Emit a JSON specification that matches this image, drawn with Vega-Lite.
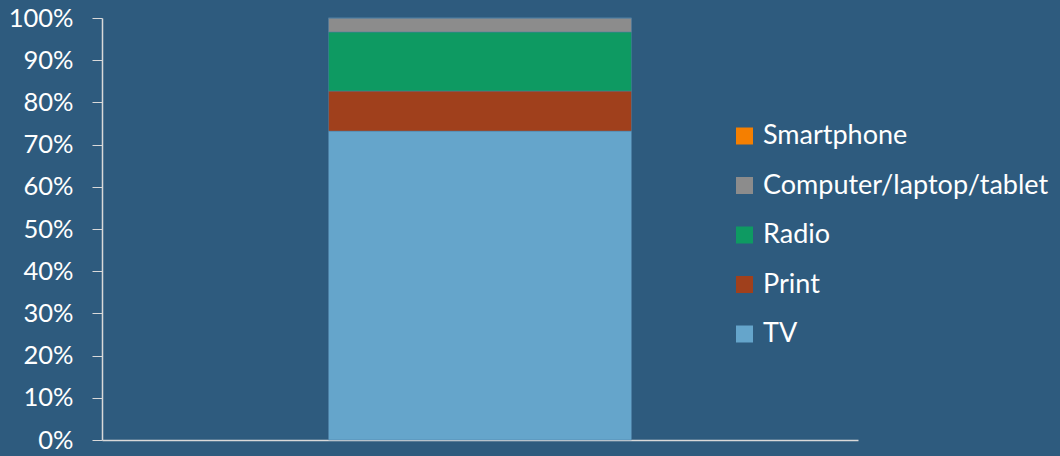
{
  "$schema": "https://vega.github.io/schema/vega-lite/v6.json",
  "autosize": {"type": "none"},
  "width": 756,
  "height": 422,
  "padding": {"left": 102, "top": 18, "right": 202, "bottom": 16},
  "background": "#2E5B7E",
  "config": {
    "view": {"stroke": null},
    "font": "Lato",
    "axis": {"labelFont": "Lato", "labelColor": "#FFFFFF", "domainColor": "#D9D9D9", "tickColor": "#D9D9D9", "grid": false},
    "legend": {"labelFont": "Lato", "labelColor": "#FFFFFF"}
  },
  "data": {
    "values": [
      {"category": "All", "medium": "TV", "share": 0.732, "rank": 1},
      {"category": "All", "medium": "Print", "share": 0.095, "rank": 2},
      {"category": "All", "medium": "Radio", "share": 0.14, "rank": 3},
      {"category": "All", "medium": "Computer/laptop/tablet", "share": 0.033, "rank": 4},
      {"category": "All", "medium": "Smartphone", "share": 0.0, "rank": 5}
    ]
  },
  "mark": {"type": "bar", "stroke": "#4F7FA3", "strokeWidth": 0.5},
  "encoding": {
    "x": {
      "field": "category",
      "type": "nominal",
      "scale": {"paddingInner": 0, "paddingOuter": 0.7475},
      "axis": {"title": null, "labels": false, "ticks": false, "domainWidth": 1.5}
    },
    "y": {
      "field": "share",
      "type": "quantitative",
      "stack": "zero",
      "scale": {"domain": [0, 1], "nice": false},
      "axis": {
        "title": null,
        "format": ".0%",
        "values": [0, 0.1, 0.2, 0.3, 0.4, 0.5, 0.6, 0.7, 0.8, 0.9, 1],
        "labelFontSize": 25.5,
        "tickSize": 10,
        "labelPadding": 19,
        "domainWidth": 1.5
      }
    },
    "color": {
      "field": "medium",
      "type": "nominal",
      "scale": {
        "domain": ["Smartphone", "Computer/laptop/tablet", "Radio", "Print", "TV"],
        "range": ["#F57F00", "#8C8C8C", "#0E9A62", "#A0401C", "#65A5CB"]
      },
      "legend": {
        "title": null,
        "orient": "none",
        "legendX": 629,
        "legendY": 104.5,
        "symbolType": "square",
        "symbolSize": 289,
        "symbolStrokeWidth": 0,
        "labelFontSize": 27,
        "labelOffset": 5,
        "rowPadding": 21.5,
        "labelLimit": 400,
        "padding": 0
      }
    },
    "order": {"field": "rank", "type": "quantitative"}
  }
}
